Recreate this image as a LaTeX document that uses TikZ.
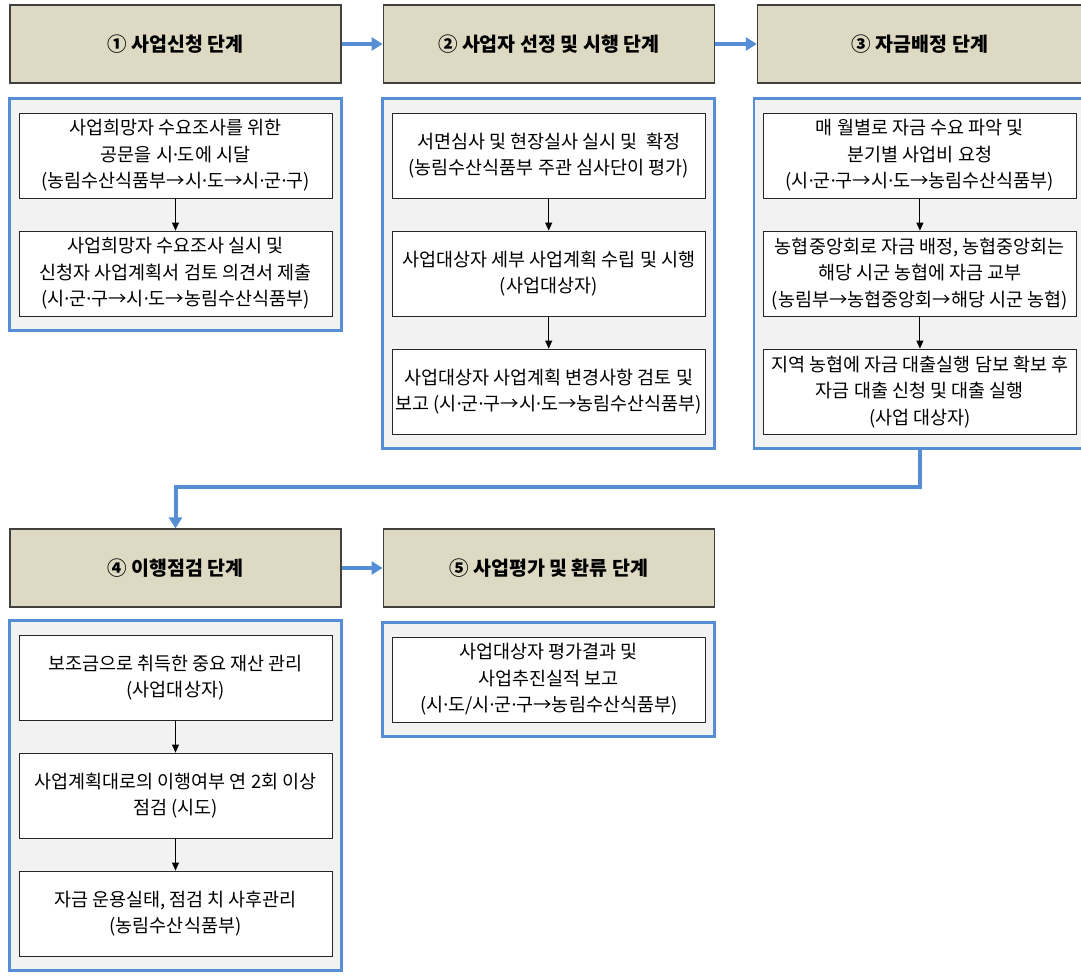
\documentclass[tikz,border=0pt]{standalone}
\usepackage{fontspec}
\setmainfont{Noto Sans CJK KR}
\newfontfamily\dotfont{Noto Sans}
\newcommand{\md}{{\dotfont ·}}
\usetikzlibrary{arrows.meta,positioning,fit,backgrounds}
\definecolor{stagetan}{HTML}{DDD9C3}
\definecolor{panelgray}{HTML}{F2F2F2}
\definecolor{flowblue}{HTML}{558ED5}

\begin{document}
\begin{tikzpicture}[x=1pt, y=-1pt, node distance=32pt,
	stage/.style={draw=black!75, line width=1.2pt, fill=stagetan, minimum width=331pt, minimum height=78pt, font=\fontsize{19.5}{23}\selectfont\bfseries},
	task/.style={draw=black!85, line width=1pt, fill=white, minimum width=313pt, minimum height=85pt, align=center, inner sep=2pt, font=\fontsize{18.5}{26.5}\selectfont},
	panel/.style={draw=flowblue, line width=2.8pt, fill=panelgray, inner xsep=9pt, inner ysep=14pt},
	flow/.style={draw=flowblue, line width=4pt, -{Triangle[length=11pt,width=13pt]}},
	link/.style={draw=black, line width=0.9pt, -{Triangle[length=8pt,width=7pt]}}]
	\useasboundingbox (0,0) rectangle (1081,976);

	% stages
	\node[stage]	(h1)	at (175.5,44)		{① 사업신청 단계};
	\node[stage]	(h2)	[right=41pt of h1]	{② 사업자 선정 및 시행 단계};
	\node[stage, minimum width=325pt]	(h3)	[right=42pt of h2]	{③ 자금배정 단계};
	\node[stage]	(h4)	at (175.5,568)		{④ 이행점검 단계};
	\node[stage]	(h5)	[right=41pt of h4]	{⑤ 사업평가 및 환류 단계};

	% tasks
	\node[task]	(a1)	[below=29pt of h1]	{사업희망자 수요조사를 위한\\공문을 시\md 도에 시달\\(농림수산식품부→시\md 도→시\md 군\md 구)};
	\node[task]	(a2)	[below=of a1]		{사업희망자 수요조사 실시 및\\신청자 사업계획서 검토 의견서 제출\\(시\md 군\md 구→시\md 도→농림수산식품부)};
	\node[task]	(b1)	[below=29pt of h2]	{서면심사 및 현장실사 실시 및\ \ 확정\\(농림수산식품부 주관 심사단이 평가)};
	\node[task]	(b2)	[below=of b1]		{사업대상자 세부 사업계획 수립 및 시행\\(사업대상자)};
	\node[task]	(b3)	[below=of b2]		{사업대상자 사업계획 변경사항 검토 및\\보고 (시\md 군\md 구→시\md 도→농림수산식품부)};
	\node[task]	(c1)	[below=29pt of h3]	{매 월별로 자금 수요 파악 및\\분기별 사업비 요청\\(시\md 군\md 구→시\md 도→농림수산식품부)};
	\node[task]	(c2)	[below=of c1]		{농협중앙회로 자금 배정, 농협중앙회는\\해당 시군 농협에 자금 교부\\(농림부→농협중앙회→해당 시군 농협)};
	\node[task]	(c3)	[below=of c2]		{지역 농협에 자금 대출실행 담보 확보 후\\자금 대출 신청 및 대출 실행\\(사업 대상자)};
	\node[task]	(d1)	[below=27pt of h4]	{보조금으로 취득한 중요 재산 관리\\(사업대상자)};
	\node[task]	(d2)	[below=of d1]		{사업계획대로의 이행여부 연 2회 이상\\점검 (시도)};
	\node[task]	(d3)	[below=of d2]		{자금 운용실태, 점검 치 사후관리\\(농림수산식품부)};
	\node[task]	(e1)	[below=29pt of h5]	{사업대상자 평가결과 및\\사업추진실적 보고\\(시\md 도/시\md 군\md 구→농림수산식품부)};

	% panels
	\begin{scope}[on background layer]
		\node[panel, fit=(a1)(a2)]	(p1) {};
		\node[panel, fit=(b1)(b3)]	(p2) {};
		\node[panel, fit=(c1)(c3)]	(p3) {};
		\node[panel, fit=(d1)(d3)]	(p4) {};
		\node[panel, fit=(e1)]		(p5) {};
	\end{scope}

	\path [link]
	(a1)	edge	(a2)
	(b1)	edge	(b2)
	(b2)	edge	(b3)
	(c1)	edge	(c2)
	(c2)	edge	(c3)
	(d1)	edge	(d2)
	(d2)	edge	(d3)
	;

	\draw[flow] (h1) -- (h2);
	\draw[flow] (h2) -- (h3);
	\draw[flow] (h4) -- (h5);
	\draw[flow] (p3.south) -- ++(0,37) -| (h4.north);
\end{tikzpicture}
\end{document}
